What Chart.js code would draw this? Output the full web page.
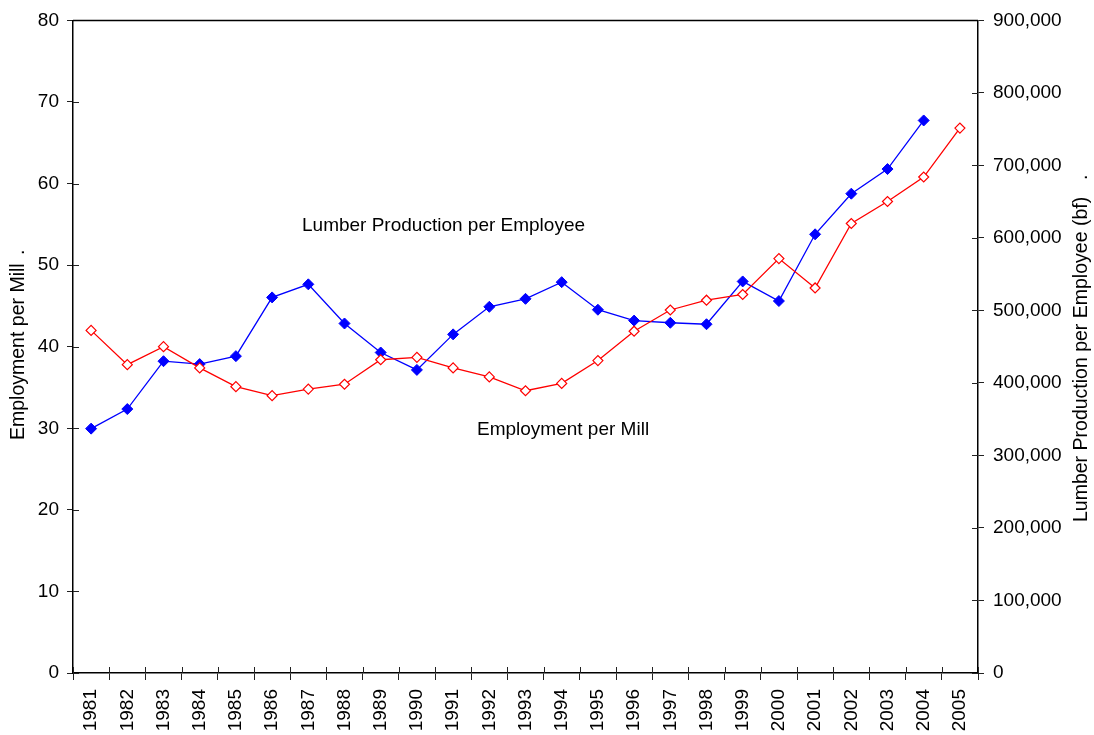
<!DOCTYPE html>
<html>
<head>
<meta charset="utf-8">
<title>Employment per Mill and Lumber Production per Employee</title>
<script src="https://cdn.jsdelivr.net/npm/chart.js@4.4.1/dist/chart.umd.min.js"></script>
<style>
    html, body { margin: 0; padding: 0; background: #fff; }
    canvas { display: block; }
</style>
</head>
<body>
<canvas id="millChart" width="1094" height="735"></canvas>
<script>
// Yearly series, 1981-2005
const years = ['1981', '1982', '1983', '1984', '1985', '1986', '1987', '1988', '1989', '1990',
    '1991', '1992', '1993', '1994', '1995', '1996', '1997', '1998', '1999', '2000',
    '2001', '2002', '2003', '2004', '2005'];

// employees per mill (left axis)
const employmentPerMill = [42.0, 37.8, 40.0, 37.4, 35.1, 34.0, 34.8, 35.4, 38.4, 38.7,
    37.4, 36.3, 34.6, 35.5, 38.3, 41.9, 44.5, 45.7, 46.4, 50.8,
    47.2, 55.1, 57.8, 60.8, 66.8];

// board feet per employee (right axis), no 2005 figure
const lumberPerEmployee = [337000, 364000, 430000, 426000, 437000, 518000, 536000, 482000, 442000, 418000,
    467000, 505000, 516000, 539000, 501000, 486000, 483000, 481000, 540000, 513000,
    605000, 661000, 695000, 762000, null];

const FONT = 'Liberation Sans, Arial, sans-serif';

// draws text turned to read bottom-to-top, starting at (x, y)
function verticalText(ctx, text, x, y) {
    ctx.save();
    ctx.translate(x, y);
    ctx.rotate(-Math.PI / 2);
    ctx.textAlign = 'left';
    ctx.textBaseline = 'middle';
    ctx.fillText(text, 0, 0);
    ctx.restore();
}

// inner tick stubs, top frame line, axis titles and the two series captions
const decorations = {
    id: 'decorations',
    afterDraw(chart) {
        const ctx = chart.ctx;
        const area = chart.chartArea;
        const x = chart.scales.x;
        const yl = chart.scales.yLeft;
        const yr = chart.scales.yRight;
        ctx.save();
        ctx.strokeStyle = '#222';
        ctx.lineWidth = 1;
        ctx.beginPath();
        yl.ticks.forEach(t => {
            const py = Math.round(yl.getPixelForValue(t.value)) + 0.5;
            ctx.moveTo(area.left, py);
            ctx.lineTo(area.left + 6, py);
        });
        yr.ticks.forEach(t => {
            const py = Math.round(yr.getPixelForValue(t.value)) + 0.5;
            ctx.moveTo(area.right - 6, py);
            ctx.lineTo(area.right, py);
        });
        const n = years.length;
        for (let i = 0; i <= n; i++) {
            const px = Math.round(x.left + i * x.width / n) + 0.5;
            ctx.moveTo(px, area.bottom);
            ctx.lineTo(px, area.bottom - 6);
        }
        ctx.stroke();

        ctx.strokeStyle = '#000';
        ctx.lineWidth = 1.5;
        ctx.beginPath();
        ctx.moveTo(area.left, area.top);
        ctx.lineTo(area.right, area.top);
        ctx.stroke();

        ctx.fillStyle = '#000';
        ctx.font = '19px ' + FONT;
        ctx.textBaseline = 'middle';
        ctx.textAlign = 'left';
        ctx.fillText('Lumber Production per Employee', 302, 226);
        ctx.fillText('Employment per Mill', 477, 430);

        // axis titles
        ctx.font = '19.5px ' + FONT;
        verticalText(ctx, 'Employment per Mill', 19, 440);
        verticalText(ctx, '.', 19, 255);
        verticalText(ctx, 'Lumber Production per Employee (bf)', 1082, 522);
        verticalText(ctx, '.', 1082, 180);
        ctx.restore();
    }
};

const ctx = document.getElementById('millChart').getContext('2d');
new Chart(ctx, {
    type: 'line',
    data: {
        labels: years,
        datasets: [{
            label: 'Employment per Mill',
            data: employmentPerMill,
            yAxisID: 'yLeft',
            borderColor: '#ff0000',
            backgroundColor: '#ffffff',
            borderWidth: 1.3,
            pointStyle: 'rectRot',
            pointRadius: 5,
            pointBorderWidth: 1.2,
            pointBackgroundColor: '#ffffff',
            pointBorderColor: '#ff0000',
            tension: 0
        }, {
            label: 'Lumber Production per Employee',
            data: lumberPerEmployee,
            yAxisID: 'yRight',
            borderColor: '#0000ff',
            backgroundColor: '#0000ff',
            borderWidth: 1.3,
            pointStyle: 'rectRot',
            pointRadius: 5.5,
            pointBorderWidth: 1,
            pointBackgroundColor: '#0000ff',
            pointBorderColor: '#0000ff',
            tension: 0,
            spanGaps: false
        }]
    },
    options: {
        responsive: false,
        animation: false,
        layout: { padding: { top: 19, left: 0, right: 0, bottom: 0 } },
        plugins: {
            legend: { display: false },
            tooltip: { enabled: false }
        },
        scales: {
            x: {
                type: 'category',
                offset: true,
                grid: {
                    offset: true,
                    drawOnChartArea: false,
                    tickLength: 7,
                    color: '#222',
                    lineWidth: 1
                },
                border: { color: '#000', width: 1.5 },
                ticks: {
                    color: '#000',
                    font: { family: FONT, size: 19 },
                    minRotation: 90,
                    maxRotation: 90,
                    autoSkip: false,
                    padding: 9
                },
                afterFit(scale) { scale.height = 62; }
            },
            yLeft: {
                position: 'left',
                min: 0,
                max: 80,
                ticks: {
                    stepSize: 10,
                    color: '#000',
                    font: { family: FONT, size: 19 },
                    padding: 8
                },
                grid: {
                    drawOnChartArea: false,
                    tickLength: 6,
                    color: '#222'
                },
                border: { color: '#000', width: 1.5 },
                afterFit(scale) { scale.width = 73; }
            },
            yRight: {
                position: 'right',
                min: 0,
                max: 900000,
                ticks: {
                    stepSize: 100000,
                    color: '#000',
                    font: { family: FONT, size: 19 },
                    padding: 9,
                    callback: v => v.toLocaleString('en-US')
                },
                grid: {
                    drawOnChartArea: false,
                    tickLength: 6,
                    color: '#222'
                },
                border: { color: '#000', width: 1.5 },
                afterFit(scale) { scale.width = 116; }
            }
        }
    },
    plugins: [decorations]
});
</script>
</body>
</html>
